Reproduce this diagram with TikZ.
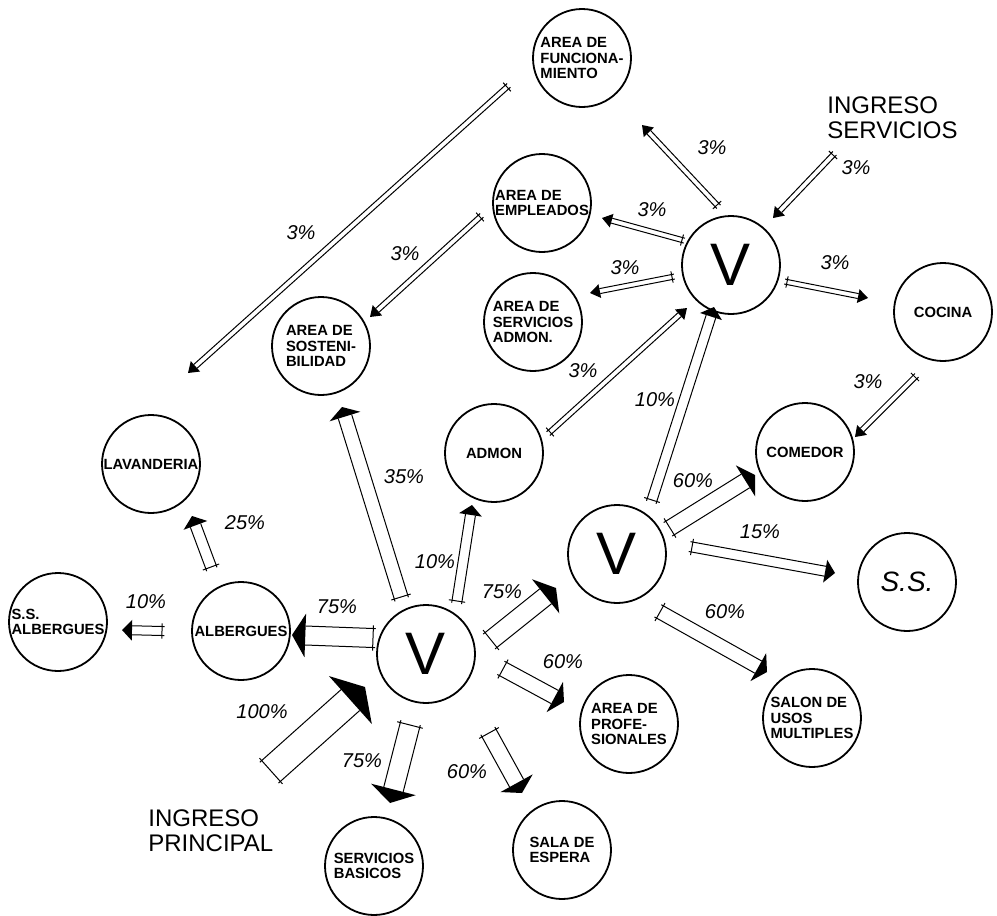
\documentclass[tikz,border=0pt]{standalone}
\usepackage{fontspec}
\setmainfont{Liberation Sans}
\usetikzlibrary{calc}

% hollow flow arrow: tail, tip, half width (px)
\newcommand{\flecha}[3]{%
  \pgfmathsetmacro{\fw}{0.5*#3}%
  \pgfmathsetmacro{\fx}{0.5*#3+1.6}%
  \pgfmathsetmacro{\fh}{max(3.5,1.15*#3)}%
  \pgfmathsetmacro{\fl}{max(5,0.7*#3)}%
  \coordinate (fb) at ($(#2)!\fl pt!(#1)$);
  \coordinate (ft) at ($(#1)!-1.2pt!(#2)$);
  \draw[flujo] ($(ft)!\fw pt!90:(#2)$) -- ($(fb)!\fw pt!90:(#2)$);
  \draw[flujo] ($(ft)!\fw pt!-90:(#2)$) -- ($(fb)!\fw pt!-90:(#2)$);
  \draw[flujo] ($(#1)!\fx pt!90:(#2)$) -- ($(#1)!\fx pt!-90:(#2)$);
  \fill ($(fb)!\fh pt!90:(#2)$) -- (#2) -- ($(fb)!\fh pt!-90:(#2)$) -- cycle;
}

\begin{document}
\begin{tikzpicture}[x=0.5pt, y=-0.5pt,
    lugar/.style={circle, draw, line width=0.9pt, minimum size=49pt, inner sep=0pt,
                  align=left, font=\bfseries\fontsize{7.4}{7.8}\selectfont},
    vest/.style={lugar, font=\fontsize{30}{30}\selectfont},
    pct/.style={inner sep=0pt, font=\itshape\fontsize{10}{10}\selectfont},
    ingreso/.style={inner sep=0pt, anchor=west, align=left, font=\fontsize{12}{12.5}\selectfont},
    flujo/.style={line width=0.5pt}
]
    \useasboundingbox (0,0) rectangle (997,916);

    % Spaces
    \node[lugar] (func) at (582,58) {AREA DE\\FUNCIONA-\\MIENTO};
    \node[lugar] (empl) at (542,203) {AREA DE\\EMPLEADOS};
    \node[lugar] (sadm) at (533,322) {AREA DE\\SERVICIOS\\ADMON.};
    \node[lugar] (cocina) at (943,312) {COCINA};
    \node[lugar] (sost) at (321,346) {AREA DE\\SOSTENI-\\BILIDAD};
    \node[lugar] (lav) at (151,464) {LAVANDERIA};
    \node[lugar] (admon) at (494,453) {ADMON};
    \node[lugar] (comedor) at (805,452) {COMEDOR};
    \node[lugar, font=\itshape\fontsize{14}{14}\selectfont] (ss) at (907,582) {S.S.};
    \node[lugar] (alb) at (241,631) {ALBERGUES};
    \node[lugar] (ssalb) at (58,622) {S.S.\\ALBERGUES};
    \node[lugar] (basicos) at (374,866) {SERVICIOS\\BASICOS};
    \node[lugar] (espera) at (562,850) {SALA DE\\ESPERA};
    \node[lugar] (prof) at (629,724) {AREA DE\\PROFE-\\SIONALES};
    \node[lugar] (salon) at (812,718) {SALON DE\\USOS\\MULTIPLES};

    % Vestibules
    \node[vest] (vsup) at (731,265) {V};
    \node[vest] (vmed) at (617,554) {V};
    \node[vest] (vinf) at (426,654) {V};

    % Entrances
    \node[ingreso] (ingp) at (148,831) {INGRESO\\PRINCIPAL};
    \node[ingreso] (ings) at (827,118) {INGRESO\\SERVICIOS};

    % Flows from the main entrance and lower vestibule
    \coordinate (t1) at (271,771); \coordinate (h1) at (365,687);
    \flecha{t1}{h1}{14}
    \node[pct] (p1) at (262,712) {100\%};
    \coordinate (t2) at (373,638); \coordinate (h2) at (292,635);
    \flecha{t2}{h2}{9.5}
    \node[pct] (p2) at (337,607) {75\%};
    \coordinate (t3) at (410,725); \coordinate (h3) at (390,803);
    \flecha{t3}{h3}{10}
    \node[pct] (p3) at (362,761) {75\%};
    \coordinate (t4) at (489,733); \coordinate (h4) at (522,793);
    \flecha{t4}{h4}{8}
    \node[pct] (p4) at (467,772) {60\%};
    \coordinate (t5) at (503,669); \coordinate (h5) at (564,702);
    \flecha{t5}{h5}{7.5}
    \node[pct] (p5) at (563,662) {60\%};
    \coordinate (t6) at (491,640); \coordinate (h6) at (556,588);
    \flecha{t6}{h6}{9.5}
    \node[pct] (p6) at (502,592) {75\%};
    \coordinate (t7) at (457,601); \coordinate (h7) at (472,505);
    \flecha{t7}{h7}{5}
    \node[pct] (p7) at (435,562) {10\%};
    \coordinate (t8) at (401,597); \coordinate (h8) at (342,407);
    \flecha{t8}{h8}{7}
    \node[pct] (p8) at (404,477) {35\%};

    % Flows from albergues
    \coordinate (t9) at (211,567); \coordinate (h9) at (192,516);
    \flecha{t9}{h9}{5.5}
    \node[pct] (p9) at (245,523) {25\%};
    \coordinate (t10) at (162,631); \coordinate (h10) at (122,630);
    \flecha{t10}{h10}{4.5}
    \node[pct] (p10) at (146,602) {10\%};

    % Flows from the middle vestibule
    \coordinate (t11) at (652,500); \coordinate (h11) at (714,307);
    \flecha{t11}{h11}{5}
    \node[pct] (p11) at (655,400) {10\%};
    \coordinate (t12) at (670,528); \coordinate (h12) at (755,475);
    \flecha{t12}{h12}{8}
    \node[pct] (p12) at (693,481) {60\%};
    \coordinate (t13) at (692,547); \coordinate (h13) at (835,573);
    \flecha{t13}{h13}{5}
    \node[pct] (p13) at (760,532) {15\%};
    \coordinate (t14) at (660,612); \coordinate (h14) at (767,672);
    \flecha{t14}{h14}{7}
    \node[pct] (p14) at (725,612) {60\%};

    % Service flows (3%)
    \coordinate (t15) at (550,432); \coordinate (h15) at (687,308);
    \flecha{t15}{h15}{2.5}
    \node[pct] (p15) at (583,371) {3\%};
    \coordinate (t16) at (717,205); \coordinate (h16) at (642,125);
    \flecha{t16}{h16}{2.5}
    \node[pct] (p16) at (712,148) {3\%};
    \coordinate (t17) at (682,240); \coordinate (h17) at (602,218);
    \flecha{t17}{h17}{2.5}
    \node[pct] (p17) at (652,210) {3\%};
    \coordinate (t18) at (672,277); \coordinate (h18) at (590,293);
    \flecha{t18}{h18}{2.5}
    \node[pct] (p18) at (625,268) {3\%};
    \coordinate (t19) at (787,282); \coordinate (h19) at (868,298);
    \flecha{t19}{h19}{2.5}
    \node[pct] (p19) at (835,263) {3\%};
    \coordinate (t20) at (833,155); \coordinate (h20) at (773,218);
    \flecha{t20}{h20}{2.5}
    \node[pct] (p20) at (856,168) {3\%};
    \coordinate (t21) at (915,377); \coordinate (h21) at (855,437);
    \flecha{t21}{h21}{2.5}
    \node[pct] (p21) at (868,382) {3\%};
    \coordinate (t22) at (480,217); \coordinate (h22) at (370,317);
    \flecha{t22}{h22}{2.5}
    \node[pct] (p22) at (405,254) {3\%};
    \coordinate (t23) at (507,87); \coordinate (h23) at (188,373);
    \flecha{t23}{h23}{2.5}
    \node[pct] (p23) at (301,233) {3\%};
\end{tikzpicture}
\end{document}
